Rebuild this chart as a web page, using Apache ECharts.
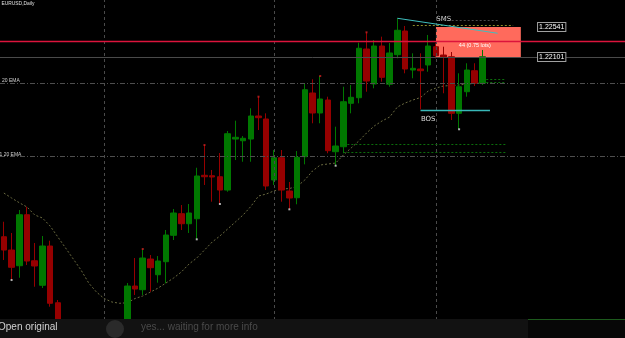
<!DOCTYPE html>
<html><head><meta charset="utf-8">
<script src="https://cdn.jsdelivr.net/npm/echarts/dist/echarts.min.js"></script>
<style>html,body{margin:0;padding:0;background:#000;overflow:hidden}#c{width:625px;height:338px}</style>
</head><body><div id="c"></div>
<script>
// ---- data ----
const days = Array.from({length: 81}, (_, i) => 'D' + (i + 1));
// [open, close, low, high]
const ohlc = [
[1.19465,1.19270,1.19124,1.19685],[1.19270,1.19017,1.18830,1.19520],[1.19040,1.19788,1.18864,1.19857],
[1.19788,1.19109,1.19050,1.19905],[1.19113,1.19036,1.18732,1.19373],[1.18753,1.19329,1.18713,1.19476],
[1.19329,1.18489,1.18439,1.19407],[1.18497,1.18170,1.18097,1.18537],[1.18170,1.17980,1.17877,1.18214],
[1.17950,1.18097,1.17862,1.18156],[1.18082,1.17804,1.17716,1.18126],[1.17818,1.17628,1.17540,1.17906],
[1.17628,1.17877,1.17569,1.17950],[1.17862,1.17686,1.17598,1.17950],[1.17686,1.17833,1.17569,1.17892],
[1.17818,1.18024,1.17774,1.18097],[1.18024,1.18742,1.17980,1.18786],[1.18742,1.18698,1.18610,1.19153],
[1.18688,1.19153,1.18610,1.19285],[1.19138,1.19011,1.18659,1.19197],[1.18908,1.19109,1.18791,1.19182],
[1.19099,1.19490,1.18782,1.19564],[1.19486,1.19813,1.19417,1.19872],[1.19803,1.19656,1.19564,1.19930],
[1.19656,1.19813,1.19520,1.19945],[1.19729,1.20356,1.19427,1.20477],[1.20366,1.20345,1.20224,1.20810],
[1.20360,1.20341,1.19979,1.20444],[1.20345,1.20150,1.19945,1.20693],[1.20150,1.20976,1.20125,1.21016],
[1.20898,1.20923,1.20590,1.21167],[1.20873,1.20909,1.20565,1.20942],[1.20898,1.21236,1.20565,1.21349],
[1.21236,1.21211,1.21030,1.21519],[1.21192,1.20209,1.20150,1.21275],[1.20297,1.20624,1.20224,1.20737],
[1.20624,1.20150,1.19979,1.20737],[1.20136,1.20033,1.19867,1.20268],[1.20037,1.20630,1.19941,1.20722],
[1.20639,1.21621,1.20527,1.21715],[1.21573,1.21280,1.21129,1.21774],[1.21280,1.21485,1.21129,1.21822],
[1.21470,1.20727,1.20689,1.21519],[1.20712,1.20796,1.20507,1.21079],[1.20785,1.21445,1.20689,1.21665],
[1.21422,1.21510,1.21275,1.21690],[1.21504,1.22229,1.21422,1.22311],[1.22218,1.21749,1.21592,1.22463],
[1.21705,1.22262,1.21642,1.22350],[1.22262,1.21803,1.21739,1.22399],[1.21701,1.22160,1.21665,1.22306],
[1.22135,1.22493,1.22082,1.22669],[1.22482,1.21925,1.21862,1.22556],[1.21910,1.21935,1.21789,1.22155],
[1.21925,1.21900,1.21334,1.22155],[1.21984,1.22262,1.21885,1.22424],[1.22252,1.22120,1.22082,1.22302],
[1.22130,1.22097,1.21569,1.22252],[1.22105,1.21275,1.21177,1.22174],[1.21275,1.21665,1.21041,1.21862],
[1.21592,1.21910,1.21519,1.22009],[1.21900,1.21715,1.21676,1.22009],[1.21715,1.22105,1.21690,1.22204]
];
const ema20 = [
1.20106,1.20033,1.19964,1.19901,1.19784,1.19740,1.19622,1.19461,1.19300,1.19138,
1.18977,1.18786,1.18654,1.18559,1.18508,1.18489,1.18497,1.18559,1.18596,1.18654,
1.18713,1.18786,1.18860,1.18948,1.19065,1.19153,1.19270,1.19388,1.19476,1.19578,
1.19681,1.19784,1.19908,1.20062,1.20092,1.20136,1.20165,1.20172,1.20202,1.20297,
1.20429,1.20517,1.20532,1.20546,1.20664,1.20766,1.20869,1.20986,1.21089,1.21162,
1.21221,1.21368,1.21426,1.21470,1.21507,1.21602,1.21646,1.21676,1.21683,1.21690,
1.21705,1.21712,1.21720
];
const priceTags = [1.22541, 1.22101];
const redLevel = 1.22325;
const emaLevels = [1.21715, 1.20642];
const separatorIdx = [13, 35, 56];
const fractalLowIdx = [1, 25, 28, 37, 43, 59];
const fractalHighIdx = [18, 26, 33, 41, 47];
const tradeZone = {from: 56, to: 67, top: 1.22541, bottom: 1.22101, text: '44 (0.75 lots)'};
const smsLine = {from: 51, to: 64, start: 1.22669, end: 1.22449};
const smsDotted = {from: 57, to: 64, price: 1.22644};
const yellowLevel = {from: 53, to: 66, price: 1.22560};
const bosLevel = {from: 54, to: 63, price: 1.21324};
const greenZone = {from: 44, to: 65, prices: [1.20825, 1.20703]};
const greenShort = {from: 62, to: 65, prices: [1.21771, 1.21734]};
const yMin = 1.17980, yMax = 1.22937;

// ---- chart ----
const chart = echarts.init(document.getElementById('c'), null, {renderer: 'canvas'});
const seg = (a, b, p1, p2, style) => [{coord: [days[a], p1], lineStyle: style}, {coord: [days[b], p2]}];
const greenDash = {color: '#0b6e0b', type: [2, 2], width: 1};

const option = {
  backgroundColor: '#000',
  animation: false,
  grid: {left: -1.37, top: 0, width: 627.35, height: 338},
  xAxis: {type: 'category', data: days, show: false, boundaryGap: true},
  yAxis: {type: 'value', min: yMin, max: yMax, show: false, splitLine: {show: false}},
  series: [
    {
      type: 'line', data: ema20, symbol: 'none', z: 1, silent: true,
      lineStyle: {color: '#6a6a40', width: 1, type: [2, 2]},
      markArea: {
        silent: true,
        itemStyle: {color: '#ff6a5c', opacity: 1},
        label: {show: true, position: 'inside', offset: [-3.5, 3.5], color: '#fff', fontSize: 5.5,
                fontFamily: 'Liberation Sans', formatter: tradeZone.text},
        data: [[{xAxis: days[tradeZone.from], yAxis: tradeZone.top}, {xAxis: days[tradeZone.to], yAxis: tradeZone.bottom}]]
      },
      markLine: {
        silent: true, precision: 5, symbol: ['none', 'none'], label: {show: false},
        data: separatorIdx.map(i => ({xAxis: days[i], lineStyle: {color: '#4a4a4a', type: [3, 3], width: 1}}))
          .concat(emaLevels.map(p => ({yAxis: p, lineStyle: {color: '#4e4e4e', type: [5, 2, 1, 2], width: 1}})))
      }
    },
    {
      type: 'candlestick', data: ohlc, barWidth: 6, z: 3, silent: true,
      itemStyle: {color: '#007800', color0: '#960000', borderColor: '#007800', borderColor0: '#960000', borderWidth: 1},
      markLine: {
        silent: true, precision: 5, symbol: ['none', 'none'], label: {show: false},
        data: [
          {yAxis: redLevel, lineStyle: {color: '#dc143c', type: 'solid', width: 1.3}},
          {yAxis: priceTags[1], lineStyle: {color: '#4a4a4a', type: 'solid', width: 1}},
          seg(greenZone.from, greenZone.to, greenZone.prices[0], greenZone.prices[0], greenDash),
          seg(greenZone.from, greenZone.to, greenZone.prices[1], greenZone.prices[1], greenDash),
          seg(greenShort.from, greenShort.to, greenShort.prices[0], greenShort.prices[0], greenDash),
          seg(greenShort.from, greenShort.to, greenShort.prices[1], greenShort.prices[1], greenDash),
          seg(yellowLevel.from, yellowLevel.to, yellowLevel.price, yellowLevel.price, {color: '#8c8c2a', type: [2, 2], width: 1}),
          seg(smsDotted.from, smsDotted.to, smsDotted.price, smsDotted.price, {color: '#4a4a4a', type: [2, 2], width: 1}),
          seg(smsLine.from, smsLine.to, smsLine.start, smsLine.end, {color: '#3fbfbf', type: 'solid', width: 1}),
          seg(bosLevel.from, bosLevel.to, bosLevel.price, bosLevel.price, {color: '#38b8b8', type: 'solid', width: 1.3})
        ]
      },
      markPoint: {
        silent: true, symbol: 'circle', symbolSize: 0,
        data: [
          {coord: [days[57], 1.22658], label: {show: true, position: 'inside', formatter: 'SMS', color: '#cfcfcf', fontSize: 7, fontFamily: 'DejaVu Sans'}},
          {coord: [days[55], 1.21187], label: {show: true, position: 'inside', formatter: 'BOS', color: '#dcdcdc', fontSize: 7, fontFamily: 'DejaVu Sans'}}
        ].concat(priceTags.map(p => ({
          coord: [days[71], p],
          label: {show: true, position: 'inside', formatter: p.toFixed(5), color: '#fff', fontSize: 7,
                  fontFamily: 'Liberation Sans', backgroundColor: '#000', borderColor: '#a0a0a0', borderWidth: 1, padding: [1, 1, 0, 1]}
        })))
      }
    },
    {
      type: 'scatter', z: 4, silent: true, symbol: 'rect', symbolSize: 2,
      itemStyle: {color: '#d8d8d8'},
      data: fractalLowIdx.map(i => [days[i], ohlc[i][2]])
    },
    {
      type: 'scatter', z: 4, silent: true, symbol: 'rect', symbolSize: 2,
      itemStyle: {color: '#cc2020'},
      data: fractalHighIdx.map(i => [days[i], ohlc[i][3]])
    }
  ],
  graphic: [
    {type: 'text', left: 1.5, top: 1, z: 50, style: {text: 'EURUSD,Daily', fill: '#e0e0e0', font: '4.9px "Liberation Sans"'}},
    {type: 'text', left: 2, top: 78.5, z: 50, style: {text: '20 EMA', fill: '#d0d0d0', font: '5px "Liberation Sans"'}},
    {type: 'text', left: -0.5, top: 152, z: 50, style: {text: '1 20 EMA', fill: '#d0d0d0', font: '5px "Liberation Sans"'}},
    {type: 'rect', z: 100, shape: {x: 0, y: 319, width: 625, height: 19}, style: {fill: '#121212'}},
    {type: 'rect', z: 101, shape: {x: 528, y: 319, width: 97, height: 19}, style: {fill: '#070707'}},
    {type: 'line', z: 102, shape: {x1: 528, y1: 319.5, x2: 625, y2: 319.5}, style: {stroke: '#1d5a1d', lineWidth: 1}},
    {type: 'circle', z: 101, shape: {cx: 115, cy: 329, r: 9}, style: {fill: '#2a2a2a'}},
    {type: 'text', z: 102, left: -2, top: 322, style: {text: 'Open original', fill: '#d2d2d2', font: '10px "Liberation Sans"'}},
    {type: 'text', z: 102, left: 141, top: 322, style: {text: 'yes... waiting for more info', fill: '#4a4a4a', font: '10px "Liberation Sans"'}}
  ]
};
chart.setOption(option);
</script>
</body></html>
